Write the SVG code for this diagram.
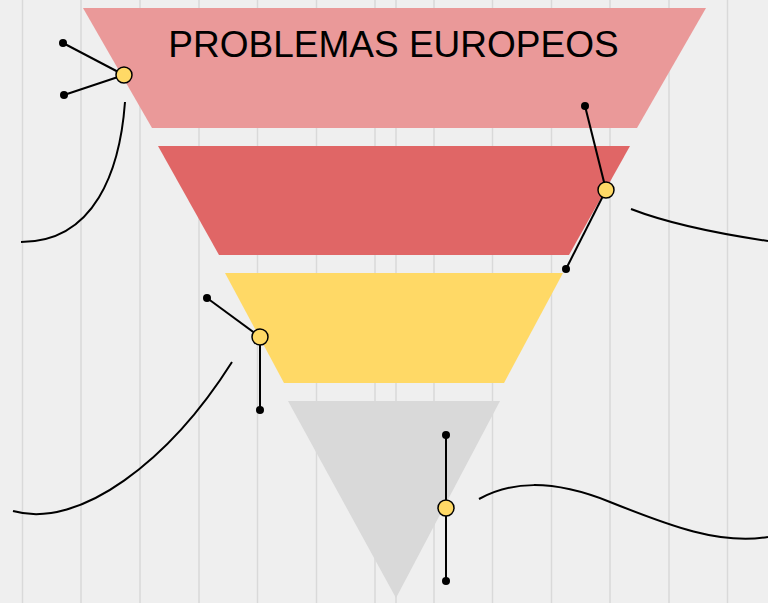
<svg xmlns="http://www.w3.org/2000/svg" width="768" height="603" viewBox="0 0 768 603">
<style>
.grid line{stroke:#d9d9d9;stroke-width:1.5}
.lead{stroke:#000;stroke-width:2;fill:none}
.curve{stroke:#000;stroke-width:2;fill:none}
.dot{fill:#000}
.knob{fill:#ffd966;stroke:#000;stroke-width:1.5}
.title{font-family:"Liberation Sans",Arial,sans-serif;font-size:37px;fill:#000}
</style>
<rect width="768" height="603" fill="#efefef"/>
<g class="grid">
<line x1="22.5" y1="0" x2="22.5" y2="603"/>
<line x1="81" y1="0" x2="81" y2="603"/>
<line x1="140" y1="0" x2="140" y2="603"/>
<line x1="199" y1="0" x2="199" y2="603"/>
<line x1="257.5" y1="0" x2="257.5" y2="603"/>
<line x1="316.5" y1="0" x2="316.5" y2="603"/>
<line x1="375" y1="0" x2="375" y2="603"/>
<line x1="396" y1="0" x2="396" y2="603"/>
<line x1="434" y1="0" x2="434" y2="603"/>
<line x1="492.5" y1="0" x2="492.5" y2="603"/>
<line x1="551.5" y1="0" x2="551.5" y2="603"/>
<line x1="610" y1="0" x2="610" y2="603"/>
<line x1="669" y1="0" x2="669" y2="603"/>
<line x1="727.5" y1="0" x2="727.5" y2="603"/>
</g>
<g id="level1">
<polygon points="83,8 706,8 637,128 152,128" fill="#ea9999"/>
<text class="title" x="393.5" y="57" text-anchor="middle">PROBLEMAS EUROPEOS</text>
</g>
<g id="level2"><polygon points="158,146 630,146 569,255 219,255" fill="#e06666"/></g>
<g id="level3"><polygon points="225,273 563,273 504,383 284,383" fill="#ffd966"/></g>
<g id="level4"><polygon points="288,401 500,401 396,598" fill="#d9d9d9"/></g>
<g id="connectors">
<path class="curve" d="M125,102 C120,170 95,242 21,242"/>
<path class="curve" d="M631,209 Q680,228 768,241"/>
<path class="curve" d="M232,362 C170,460 80,530 13,511"/>
<path class="curve" d="M479,499 C510,482 550,478 610,502 S720,545 768,537"/>
<line class="lead" x1="63" y1="43" x2="124" y2="75"/>
<line class="lead" x1="64" y1="95" x2="124" y2="75"/>
<line class="lead" x1="585" y1="106" x2="606" y2="190"/>
<line class="lead" x1="566" y1="269" x2="606" y2="190"/>
<line class="lead" x1="207" y1="298" x2="260" y2="337"/>
<line class="lead" x1="260" y1="410" x2="260" y2="337"/>
<line class="lead" x1="446" y1="435" x2="446" y2="581"/>
</g>
<g id="callout1">
<circle class="dot" cx="63" cy="43" r="4"/>
<circle class="dot" cx="64" cy="95" r="4"/>
<circle class="knob" cx="124" cy="75" r="8"/>
</g>
<g id="callout2">
<circle class="dot" cx="585" cy="106" r="4"/>
<circle class="dot" cx="566" cy="269" r="4"/>
<circle class="knob" cx="606" cy="190" r="8"/>
</g>
<g id="callout3">
<circle class="dot" cx="207" cy="298" r="4"/>
<circle class="dot" cx="260" cy="410" r="4"/>
<circle class="knob" cx="260" cy="337" r="8"/>
</g>
<g id="callout4">
<circle class="dot" cx="446" cy="435" r="4"/>
<circle class="dot" cx="446" cy="581" r="4"/>
<circle class="knob" cx="446" cy="508" r="8"/>
</g>
</svg>
